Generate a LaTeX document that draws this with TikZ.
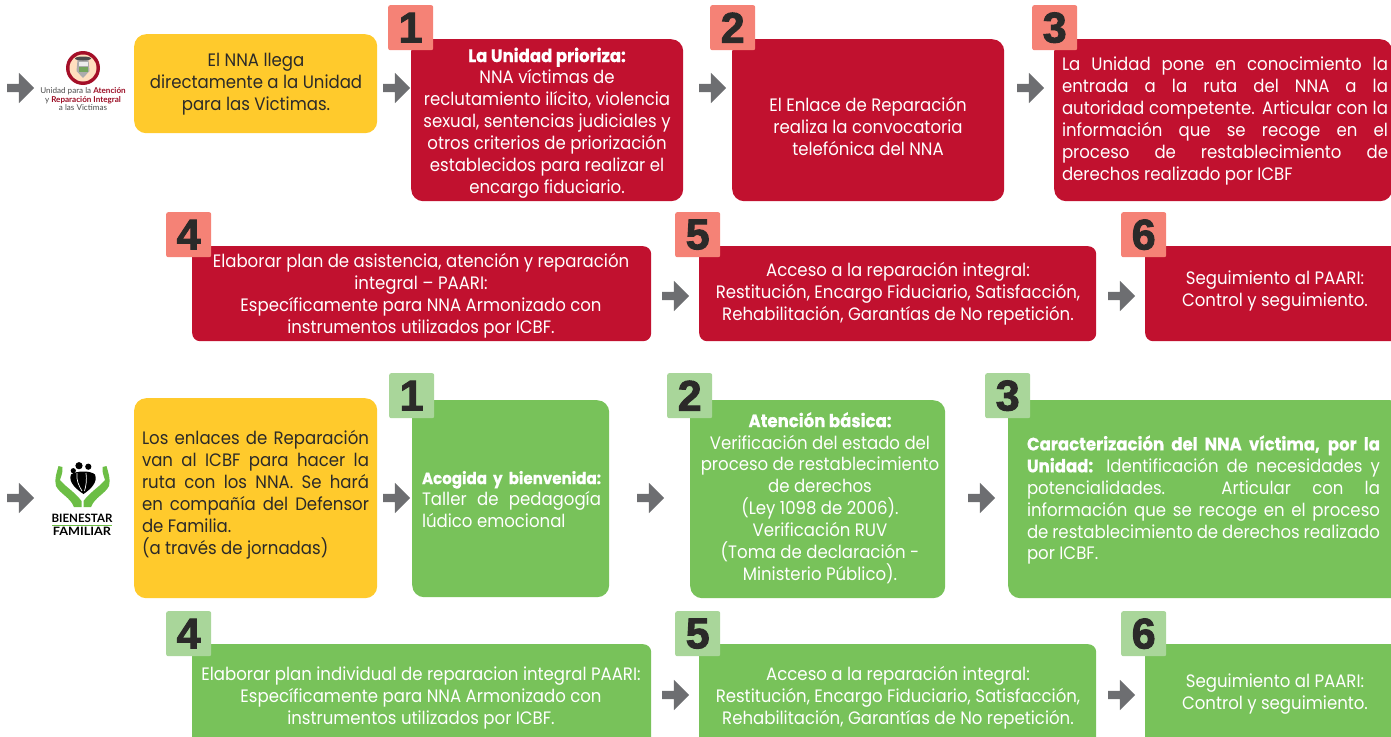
\documentclass[tikz,border=0pt]{standalone}
\usepackage{fontspec}
\usetikzlibrary{shapes.arrows}
\setmainfont[FakeStretch=0.92,BoldFeatures={FakeBold=0.6}]{Poppins}
\newfontfamily\numfont[BoldFeatures={FakeBold=2.2}]{Liberation Sans}
\newfontfamily\lblfont{Lato}
\definecolor{cred}{HTML}{C1112F}
\definecolor{cgreen}{HTML}{78C25A}
\definecolor{cyel}{HTML}{FFCA2C}
\definecolor{bred}{HTML}{F58276}
\definecolor{bgreen}{HTML}{A9D69A}
\definecolor{cgray}{HTML}{6D6E71}
\definecolor{ctext}{HTML}{2B2A29}
\definecolor{hgreen}{HTML}{6CBE45}
\tikzset{
 panel/.style={draw=none,rounded corners=12pt,inner sep=0pt,anchor=north west},
 badge/.style={fill=#1,draw=none,rounded corners=2pt,minimum width=45pt,minimum height=45pt,inner sep=0pt,anchor=north west,
   font=\numfont\bfseries\fontsize{43}{43}\selectfont,text=ctext},
 flow/.style={shape=single arrow,fill=cgray,draw=none,inner sep=4pt,minimum width=30pt,minimum height=27pt,
   single arrow head extend=11pt,single arrow head indent=0pt,single arrow tip angle=90},
 body/.style={inner sep=0pt,align=center,font=\fontsize{18}{21.9}\selectfont,text=white},
 dark/.style={text=ctext},
}
\newcommand{\hd}[1]{{\bfseries #1}}
\begin{document}
\begin{tikzpicture}[x=1pt,y=-1pt]
\useasboundingbox (0,0) rectangle (1391,736);
\clip (0,0) rectangle (1391,736);
% panels
\node[panel,fill=cyel,minimum width=243pt,minimum height=99pt] (y1) at (134,34) {};
\node[panel,fill=cred,minimum width=272pt,minimum height=162pt] (r1) at (411,39) {};
\node[panel,fill=cred,minimum width=272pt,minimum height=162pt] (r2) at (732,39) {};
\node[panel,fill=cred,minimum width=338pt,minimum height=162pt] (r3) at (1054,39) {};
\node[panel,rounded corners=8pt,fill=cred,minimum width=459pt,minimum height=95pt] (r4) at (192,246) {};
\node[panel,rounded corners=8pt,fill=cred,minimum width=397pt,minimum height=95pt] (r5) at (699,246) {};
\node[panel,rounded corners=8pt,fill=cred,minimum width=255pt,minimum height=95pt] (r6) at (1145,246) {};
\node[panel,fill=cyel,minimum width=243pt,minimum height=200pt] (y2) at (134,398) {};
\node[panel,fill=cgreen,minimum width=197pt,minimum height=197pt] (g1) at (412,400) {};
\node[panel,fill=cgreen,minimum width=255pt,minimum height=198pt] (g2) at (690,400) {};
\node[panel,fill=cgreen,minimum width=394pt,minimum height=198pt] (g3) at (1008,400) {};
\node[panel,rounded corners=8pt,fill=cgreen,minimum width=459pt,minimum height=102pt] (g4) at (192,644) {};
\node[panel,rounded corners=8pt,fill=cgreen,minimum width=397pt,minimum height=102pt] (g5) at (699,644) {};
\node[panel,rounded corners=8pt,fill=cgreen,minimum width=255pt,minimum height=102pt] (g6) at (1145,644) {};
% badges
\node[badge=bred] (b1) at (388,5) {1};
\node[badge=bred] (b2) at (710,5) {2};
\node[badge=bred] (b3) at (1032,5) {3};
\node[badge=bred] (b4) at (166,212) {4};
\node[badge=bred] (b5) at (675,212) {5};
\node[badge=bred] (b6) at (1121,212) {6};
\node[badge=bgreen] (c1) at (389,373) {1};
\node[badge=bgreen] (c2) at (667,373) {2};
\node[badge=bgreen] (c3) at (985,373) {3};
\node[badge=bgreen] (c4) at (166,611) {4};
\node[badge=bgreen] (c5) at (675,611) {5};
\node[badge=bgreen] (c6) at (1121,611) {6};
% arrows
\foreach \n/\px/\py in {a1/18.5/88,a2/394.5/88,a3/710.5/88,a4/1028.5/88,a5/673.5/296,a6/1119.5/296,
  a7/18.5/498,a8/394.5/498,a9/648.5/498,a10/979.5/498,a11/673.5/695,a12/1119.5/695}
  \node[flow] (\n) at (\px,\py) {};
% texts
\node[body,dark] (ty1) at (256,84) {El NNA llega\\directamente a la Unidad\\para las Victimas.};
\node[body] (tr1) at (547,123) {\hd{La Unidad prioriza:}\\NNA víctimas de\\reclutamiento ilícito, violencia\\sexual, sentencias judiciales y\\otros criterios de priorización\\establecidos para realizar el\\encargo fiduciario.};
\node[body] (tr2) at (868,126.5) {El Enlace de Reparación\\realiza la convocatoria\\telefónica del NNA};
\node[body,align=justify,text width=326pt] (tr3) at (1225,121) {La Unidad pone en conocimiento la\linebreak entrada a la ruta del NNA a la\linebreak autoridad competente. Articular con la\linebreak información que se recoge en el\linebreak proceso de restablecimiento de\linebreak derechos realizado por ICBF};
\node[body] (tr4) at (421,296) {Elaborar plan de asistencia, atención y reparación\\integral – PAARI:\\Específicamente para NNA Armonizado con\\instrumentos utilizados por ICBF.};
\node[body] (tr5) at (898,293.5) {Acceso a la reparación integral:\\Restitución, Encargo Fiduciario, Satisfacción,\\Rehabilitación, Garantías de No repetición.};
\node[body] (tr6) at (1275,291) {Seguimiento al PAARI:\\Control y seguimiento.};
\node[body,dark,align=justify,text width=227pt] (ty2) at (255.5,494.5) {Los enlaces de Reparación\linebreak van al ICBF para hacer la\linebreak ruta con los NNA. Se hará\linebreak en compañía del Defensor\linebreak de Familia.\\(a través de jornadas)};
\node[body,align=justify,text width=179pt] (tg1) at (511.5,499.5) {{\fontsize{16.4}{21.9}\selectfont\hd{Acogida y bienvenida:}}\linebreak Taller de pedagogía\linebreak lúdico emocional\par};
\node[body] (tg2) at (820,498) {\hd{Atención básica:}\\Verificación del estado del\\proceso de restablecimiento\\de derechos\\(Ley 1098 de 2006).\\Verificación RUV\\(Toma de declaración -\\Ministerio Público).};
\node[body,align=justify,text width=353pt] (tg3) at (1203.5,500) {\hd{Caracterización del NNA víctima, por la}\linebreak \hd{Unidad:} Identificación de necesidades y\linebreak potencialidades. Articular con la\linebreak información que se recoge en el proceso\linebreak de restablecimiento de derechos realizado\linebreak por ICBF.};
\node[body] (tg4) at (421,698) {Elaborar plan individual de reparacion integral PAARI:\\Específicamente para NNA Armonizado con\\instrumentos utilizados por ICBF.};
\node[body] (tg5) at (898,698) {Acceso a la reparación integral:\\Restitución, Encargo Fiduciario, Satisfacción,\\Rehabilitación, Garantías de No repetición.};
\node[body] (tg6) at (1275,694) {Seguimiento al PAARI:\\Control y seguimiento.};
% Unidad logo
\fill[cred!85!black] (83,68) circle (17);
\fill[orange!25!white] (83,68) circle (13.5);
\fill[gray!65] (77.5,60) -- (88.5,60) -- (89.5,71) -- (83,78) -- (76.5,71) -- cycle;
\fill[black!70] (83,58.5) ellipse (8 and 2);
\fill[hgreen!60!gray] (78.5,67) rectangle (87.5,72);
\fill[white!85!gray] (78.5,62) rectangle (87.5,66);
\node[inner sep=0pt,font=\lblfont\fontsize{8.1}{8.1}\selectfont,text=black!70] (lu1) at (83,91) {Unidad para la \textcolor{cred!80!black}{\bfseries Atención}};
\node[inner sep=0pt,font=\lblfont\fontsize{8.1}{8.1}\selectfont,text=black!70] (lu2) at (83,100) {y \textcolor{cred!80!black}{\bfseries Reparación Integral}};
\node[inner sep=0pt,font=\lblfont\fontsize{8.1}{8.1}\selectfont,text=black!70] (lu3) at (83,108) {a las Victimas};
% Bienestar logo
\foreach \mx/\sc in {0/1,165/-1}{
\begin{scope}[shift={(\mx,0)},xscale=\sc]
\fill[hgreen] (81.5,507) -- (81.5,501) .. controls (78,496) and (72,491) .. (66,486) -- (60,480) .. controls (61,476) and (63,473) .. (62.5,467) -- (58.5,466) .. controls (57,472) and (54,479) .. (56,486) .. controls (60,494) and (70,497) .. (74,507) -- cycle;
\draw[white,line width=1pt] (64,477) -- (73,487);
\end{scope}}
\fill[black] (79,465.7) circle (3.6) (88.3,466.7) circle (3.1) (73.3,470.7) circle (2.6);
\fill[black] (83.5,494) .. controls (76,489) and (68,482) .. (71,474.5) .. controls (76,470.5) and (91,470.5) .. (95,474.5) .. controls (98,482) and (91,489) .. (83.5,494) -- cycle;
\draw[white,line width=.7pt] (77,473) .. controls (76,480) and (79,486) .. (82,491) (86,473) .. controls (87,480) and (86,486) .. (84.5,491);
\node[inner sep=0pt,font=\lblfont\bfseries\fontsize{11.5}{11.5}\selectfont,text=black] (lb1) at (82,518.5) {BIENESTAR};
\draw[hgreen,line width=.8pt] (52,525) -- (112,525);
\node[inner sep=0pt,font=\lblfont\bfseries\fontsize{11.5}{11.5}\selectfont,text=black,xscale=1.1] (lb2) at (82,531.5) {FAMILIAR};
\end{tikzpicture}
\end{document}
